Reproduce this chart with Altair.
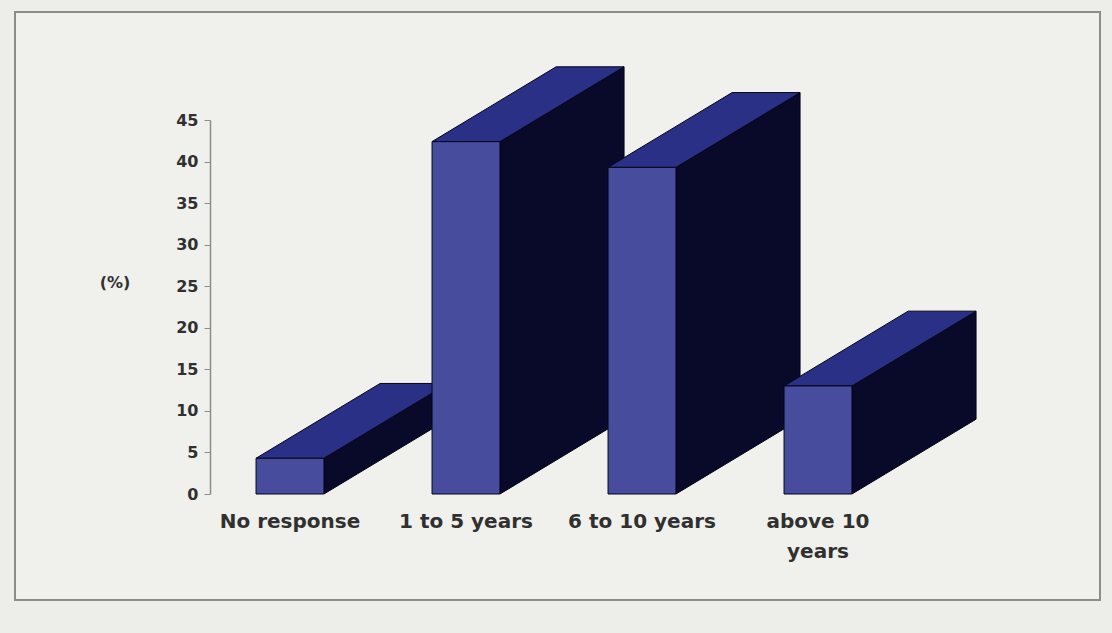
import altair as alt
import pandas as pd

# Share of respondents by length of experience (%)
categories = ["No response", "1 to 5 years", "6 to 10 years", "above 10\nyears"]
values = [4.3, 42.4, 39.3, 13.0]
y_ticks = [0, 5, 10, 15, 20, 25, 30, 35, 40, 45]

# 3-D box geometry, in data units
BAR_W = 0.386   # front face width (category units)
DEPTH_X = 0.705  # receding depth along x (category units)
DEPTH_Y = 9.0    # receding depth along y (% units)

FRONT = "#474c9c"
TOP = "#2b3087"
SIDE = "#09092a"
EDGE = "#05051a"
BG = "#edede9"
TEXT = "#303030"

fronts, sides, tops = [], [], []
slope = DEPTH_Y / DEPTH_X
for i, v in enumerate(values):
    x0, x1 = i - BAR_W / 2, i + BAR_W / 2
    fronts.append({"bar": i, "x0": x0, "x1": x1, "base": 0.0, "v": v})
    # right-hand side face
    sides.append({"bar": i, "x": x1, "lo": 0.0, "hi": v})
    sides.append({"bar": i, "x": x1 + DEPTH_X, "lo": DEPTH_Y, "hi": v + DEPTH_Y})
    # top face (parallelogram as a piecewise band)
    tops.append({"bar": i, "x": x0, "lo": v, "hi": v})
    tops.append({"bar": i, "x": x1, "lo": v, "hi": v + slope * BAR_W})
    tops.append({"bar": i, "x": x0 + DEPTH_X, "lo": v + slope * (DEPTH_X - BAR_W), "hi": v + DEPTH_Y})
    tops.append({"bar": i, "x": x1 + DEPTH_X, "lo": v + DEPTH_Y, "hi": v + DEPTH_Y})

front_df = pd.DataFrame(fronts)
side_df = pd.DataFrame(sides)
top_df = pd.DataFrame(tops)
label_df = pd.DataFrame({"idx": list(range(len(categories))), "label": categories})

xs = alt.Scale(domain=[0, 3], range=[275, 803], nice=False, zero=False)
ys = alt.Scale(domain=[0, 45], range=[482, 108], nice=False, zero=False)

y_axis = alt.Axis(
    values=y_ticks, grid=False, title=None, offset=-195,
    domainColor="#8c8c88", domainWidth=1.5, tickColor="#8c8c88", tickSize=6,
    labelFont="DejaVu Sans", labelFontWeight="bold", labelFontSize=16,
    labelColor=TEXT, labelPadding=6,
)

side_layer = alt.Chart(side_df).mark_area(
    orient="vertical", color=SIDE, stroke=EDGE, strokeWidth=1
).encode(
    x=alt.X("x:Q", scale=xs, axis=None),
    y=alt.Y("lo:Q", scale=ys, axis=y_axis, stack=None),
    y2="hi:Q",
    detail="bar:N",
)

top_layer = alt.Chart(top_df).mark_area(
    orient="vertical", color=TOP, stroke=EDGE, strokeWidth=1
).encode(
    x=alt.X("x:Q", scale=xs, axis=None),
    y=alt.Y("lo:Q", scale=ys, axis=y_axis, stack=None),
    y2="hi:Q",
    detail="bar:N",
)

front_layer = alt.Chart(front_df).mark_rect(
    color=FRONT, stroke=EDGE, strokeWidth=1
).encode(
    x=alt.X("x0:Q", scale=xs, axis=None),
    x2="x1:Q",
    y=alt.Y("base:Q", scale=ys, axis=y_axis),
    y2="v:Q",
)

labels = alt.Chart(label_df).mark_text(
    font="DejaVu Sans", fontWeight="bold", fontSize=20, color=TEXT, align="center",
    baseline="top", lineBreak="\n", lineHeight=30,
).encode(
    x=alt.X("idx:Q", scale=xs, axis=None),
    y=alt.value(500),
    text="label:N",
)

unit = alt.Chart(pd.DataFrame({"t": ["(%)"]})).mark_text(
    font="DejaVu Sans", fontWeight="bold", fontSize=16, color=TEXT,
    align="center", baseline="middle"
).encode(x=alt.value(100), y=alt.value(271), text="t:N")

chart = alt.layer(side_layer, top_layer, front_layer, labels, unit).properties(
    width=1085,
    height=588,
    autosize=alt.AutoSizeParams(type="none"),
    padding={"left": 15, "top": 12, "right": 12, "bottom": 33},
    background=BG,
).configure_view(
    stroke="#8c8c88", strokeWidth=2, fill="#f0f0ec"
)

chart.save("out.html", embed_options={"renderer": "svg", "actions": False})
